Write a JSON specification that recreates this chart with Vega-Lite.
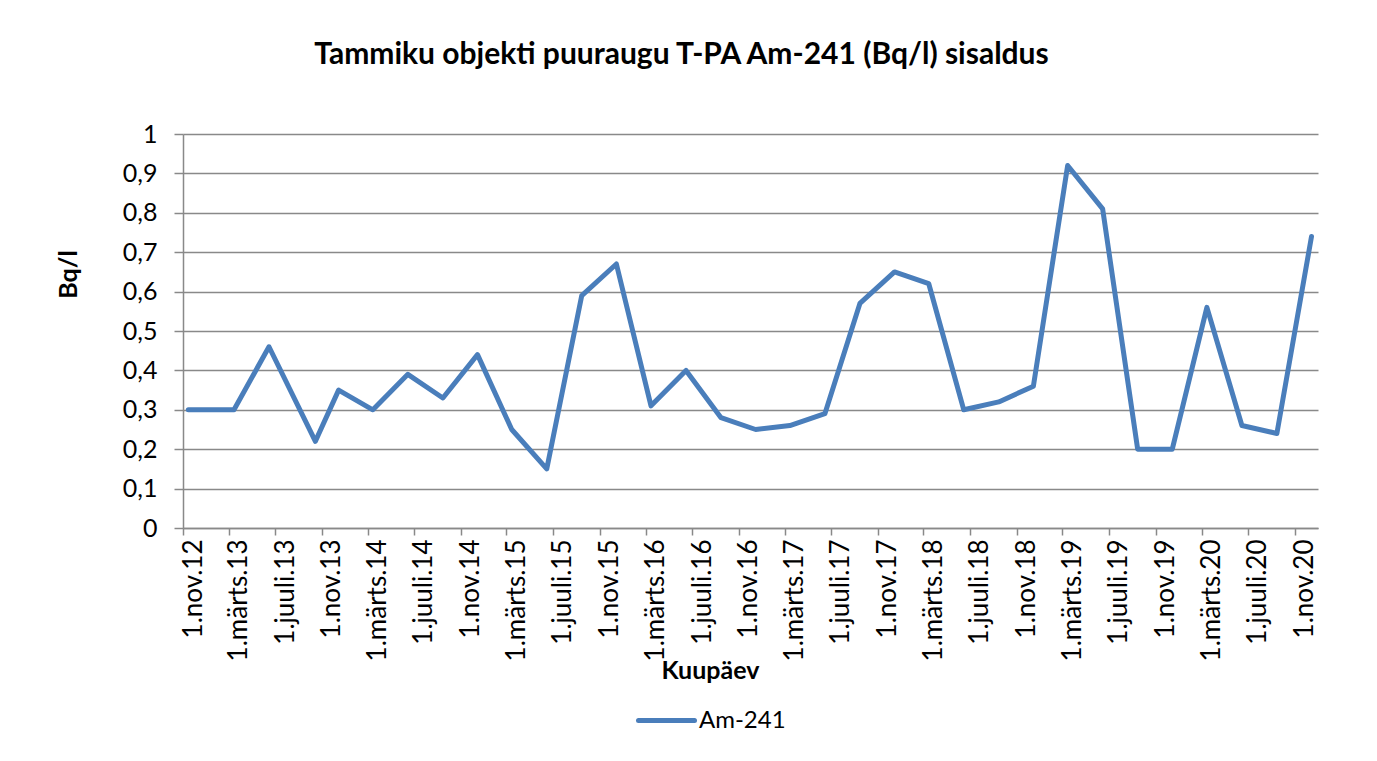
{
  "$schema": "https://vega.github.io/schema/vega-lite/v6.json",
  "autosize": "none",
  "width": 1135,
  "height": 394,
  "padding": {"left": 183, "top": 134, "right": 59, "bottom": 233},
  "background": "white",
  "title": {
    "text": "Tammiku objekti puuraugu T-PA Am-241 (Bq/l) sisaldus",
    "font": "Lato",
    "fontSize": 30,
    "fontWeight": "bold",
    "color": "black",
    "anchor": "middle",
    "dx": -69,
    "baseline": "alphabetic",
    "offset": 28
  },
  "data": {
    "values": [
      {"date": "2012-11-15", "value": 0.30, "series": "Am-241"},
      {"date": "2013-03-15", "value": 0.30, "series": "Am-241"},
      {"date": "2013-06-15", "value": 0.46, "series": "Am-241"},
      {"date": "2013-10-15", "value": 0.22, "series": "Am-241"},
      {"date": "2013-12-15", "value": 0.35, "series": "Am-241"},
      {"date": "2014-03-15", "value": 0.30, "series": "Am-241"},
      {"date": "2014-06-15", "value": 0.39, "series": "Am-241"},
      {"date": "2014-09-15", "value": 0.33, "series": "Am-241"},
      {"date": "2014-12-15", "value": 0.44, "series": "Am-241"},
      {"date": "2015-03-15", "value": 0.25, "series": "Am-241"},
      {"date": "2015-06-15", "value": 0.15, "series": "Am-241"},
      {"date": "2015-09-15", "value": 0.59, "series": "Am-241"},
      {"date": "2015-12-15", "value": 0.67, "series": "Am-241"},
      {"date": "2016-03-15", "value": 0.31, "series": "Am-241"},
      {"date": "2016-06-15", "value": 0.40, "series": "Am-241"},
      {"date": "2016-09-15", "value": 0.28, "series": "Am-241"},
      {"date": "2016-12-15", "value": 0.25, "series": "Am-241"},
      {"date": "2017-03-15", "value": 0.26, "series": "Am-241"},
      {"date": "2017-06-15", "value": 0.29, "series": "Am-241"},
      {"date": "2017-09-15", "value": 0.57, "series": "Am-241"},
      {"date": "2017-12-15", "value": 0.65, "series": "Am-241"},
      {"date": "2018-03-15", "value": 0.62, "series": "Am-241"},
      {"date": "2018-06-15", "value": 0.30, "series": "Am-241"},
      {"date": "2018-09-15", "value": 0.32, "series": "Am-241"},
      {"date": "2018-12-15", "value": 0.36, "series": "Am-241"},
      {"date": "2019-03-15", "value": 0.92, "series": "Am-241"},
      {"date": "2019-06-15", "value": 0.81, "series": "Am-241"},
      {"date": "2019-09-15", "value": 0.20, "series": "Am-241"},
      {"date": "2019-12-15", "value": 0.20, "series": "Am-241"},
      {"date": "2020-03-15", "value": 0.56, "series": "Am-241"},
      {"date": "2020-06-15", "value": 0.26, "series": "Am-241"},
      {"date": "2020-09-15", "value": 0.24, "series": "Am-241"},
      {"date": "2020-12-15", "value": 0.74, "series": "Am-241"}
    ]
  },
  "mark": {"type": "line", "strokeWidth": 5, "strokeCap": "round", "strokeJoin": "round"},
  "encoding": {
    "x": {
      "field": "date",
      "type": "temporal",
      "scale": {
        "type": "utc",
        "domain": [
          {"year": 2012, "month": 11, "date": 1, "utc": true},
          {"year": 2021, "month": 1, "date": 1, "utc": true}
        ],
        "nice": false
      },
      "axis": {
        "title": "Kuupäev",
        "titleFont": "Lato",
        "titleFontSize": 25,
        "titleFontWeight": "bold",
        "titleColor": "black",
        "titleX": 527,
        "titleY": 142,
        "titleAlign": "center",
        "titleBaseline": "middle",
        "values": [
          {"year": 2012, "month": 11, "date": 1, "utc": true},
          {"year": 2013, "month": 3, "date": 1, "utc": true},
          {"year": 2013, "month": 7, "date": 1, "utc": true},
          {"year": 2013, "month": 11, "date": 1, "utc": true},
          {"year": 2014, "month": 3, "date": 1, "utc": true},
          {"year": 2014, "month": 7, "date": 1, "utc": true},
          {"year": 2014, "month": 11, "date": 1, "utc": true},
          {"year": 2015, "month": 3, "date": 1, "utc": true},
          {"year": 2015, "month": 7, "date": 1, "utc": true},
          {"year": 2015, "month": 11, "date": 1, "utc": true},
          {"year": 2016, "month": 3, "date": 1, "utc": true},
          {"year": 2016, "month": 7, "date": 1, "utc": true},
          {"year": 2016, "month": 11, "date": 1, "utc": true},
          {"year": 2017, "month": 3, "date": 1, "utc": true},
          {"year": 2017, "month": 7, "date": 1, "utc": true},
          {"year": 2017, "month": 11, "date": 1, "utc": true},
          {"year": 2018, "month": 3, "date": 1, "utc": true},
          {"year": 2018, "month": 7, "date": 1, "utc": true},
          {"year": 2018, "month": 11, "date": 1, "utc": true},
          {"year": 2019, "month": 3, "date": 1, "utc": true},
          {"year": 2019, "month": 7, "date": 1, "utc": true},
          {"year": 2019, "month": 11, "date": 1, "utc": true},
          {"year": 2020, "month": 3, "date": 1, "utc": true},
          {"year": 2020, "month": 7, "date": 1, "utc": true},
          {"year": 2020, "month": 11, "date": 1, "utc": true}
        ],
        "labelExpr": "(utcFormat(datum.value,'%m')=='11' ? '1.nov.' : utcFormat(datum.value,'%m')=='03' ? '1.märts.' : '1.juuli.') + utcFormat(datum.value,'%y')",
        "labelAngle": -90,
        "labelAlign": "right",
        "labelBaseline": "middle",
        "labelOffset": 10,
        "labelPadding": 4,
        "labelFont": "Lato",
        "labelFontSize": 26,
        "labelColor": "black",
        "labelOverlap": false,
        "labelFlush": false,
        "labelBound": false,
        "tickSize": 7,
        "tickColor": "#898989",
        "tickWidth": 1.5,
        "domainColor": "#898989",
        "domainWidth": 1.5,
        "grid": false
      }
    },
    "y": {
      "field": "value",
      "type": "quantitative",
      "scale": {"domain": [0, 1], "nice": false, "zero": true},
      "axis": {
        "title": "Bq/l",
        "titleFont": "Lato",
        "titleFontSize": 25,
        "titleFontWeight": "bold",
        "titleColor": "black",
        "titleX": -115,
        "titleY": 140,
        "titleAngle": -90,
        "titleAlign": "center",
        "titleBaseline": "middle",
        "values": [0, 0.1, 0.2, 0.3, 0.4, 0.5, 0.6, 0.7, 0.8, 0.9, 1],
        "labelExpr": "replace(format(datum.value, '.1~f'), '.', ',')",
        "labelFont": "Lato",
        "labelFontSize": 25,
        "labelColor": "black",
        "labelPadding": 17,
        "labelOverlap": false,
        "labelFlush": false,
        "labelBound": false,
        "tickSize": 9,
        "tickColor": "#898989",
        "tickWidth": 1.5,
        "domainColor": "#898989",
        "domainWidth": 1.5,
        "grid": true,
        "gridColor": "#898989",
        "gridWidth": 1.5
      }
    },
    "color": {
      "field": "series",
      "type": "nominal",
      "scale": {"range": ["#4A7EBB"]},
      "legend": {
        "title": null,
        "orient": "none",
        "legendX": 453,
        "legendY": 556,
        "padding": 0,
        "symbolType": "stroke",
        "symbolSize": 3136,
        "symbolStrokeWidth": 5,
        "labelFont": "Lato",
        "labelFontSize": 24,
        "labelColor": "black",
        "labelOffset": 2,
        "encode": {"symbols": {"update": {"strokeCap": {"value": "round"}}}}
      }
    }
  },
  "config": {
    "view": {"stroke": null}
  }
}
